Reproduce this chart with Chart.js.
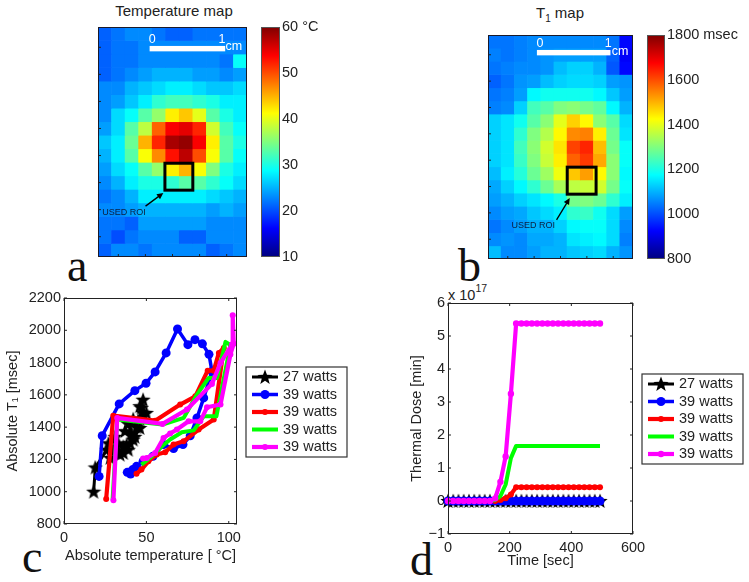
<!DOCTYPE html>
<html>
<head>
<meta charset="utf-8">
<title>Temperature and T1 maps</title>
<script src="https://cdn.jsdelivr.net/npm/chart.js@4"></script>
<style>
  html, body { margin: 0; padding: 0; background: #fff; }
  body { width: 749px; height: 582px; position: relative; overflow: hidden; font-family: "Liberation Sans", Arial, sans-serif; color: #222; }
  canvas { position: absolute; }
  .title { position: absolute; font-size: 15px; line-height: 18px; text-align: center; width: 200px; }
  .title sub { font-size: 10px; }
  .letter { position: absolute; font-family: "Liberation Serif", serif; font-size: 46px; line-height: 46px; color: #111; }
  .exponent { position: absolute; font-size: 14.5px; line-height: 16px; }
  .exponent sup { font-size: 10.5px; position: relative; top: -2px; vertical-align: super; line-height: 0; }
</style>
</head>
<body>
<div class="title" style="left:74px;top:2px">Temperature map</div>
<div class="title" style="left:460px;top:4px">T<sub>1</sub> map</div>
<div class="letter" style="left:67px;top:243px">a</div>
<div class="letter" style="left:458px;top:243px">b</div>
<div class="letter" style="left:22px;top:534px">c</div>
<div class="letter" style="left:410px;top:537px">d</div>
<div class="exponent" style="left:448px;top:287px">x 10<sup>17</sup></div>

<canvas id="tempMap" width="149" height="230" style="left:98px;top:27px"></canvas>
<canvas id="tempBar" width="90" height="257" style="left:261px;top:15px"></canvas>
<canvas id="t1Map" width="145" height="224" style="left:488px;top:35px"></canvas>
<canvas id="t1Bar" width="100" height="250" style="left:647px;top:23px"></canvas>
<canvas id="loopChart" width="360" height="297" style="left:0;top:285px"></canvas>
<canvas id="doseChart" width="349" height="297" style="left:400px;top:285px"></canvas>

<script>
// panel a, temperature in deg C per cell
const tempRows = [
  [21,22,23,23,22,21,21,22,22,22,22],
  [21,22,22,23,23,23,23,23,23,23,23],
  [21,22,22,23,23,23,23,23,23,22,29],
  [21,22,23,24,25,25,25,24,24,23,24],
  [23,23,25,26,27,28,28,27,26,26,27],
  [23,24,26,28,31,32,32,31,30,28,28],
  [23,27,29,33,36,42,44,40,33,30,28],
  [24,27,33,38,49,54,55,52,39,32,29],
  [26,28,34,45,52,58,59,54,42,33,30],
  [25,28,33,41,47,53,57,50,41,33,29],
  [24,27,29,33,36,42,45,41,35,30,28],
  [23,25,28,30,30,31,33,33,31,29,27],
  [22,23,25,28,28,28,28,28,27,26,25],
  [23,23,24,25,25,25,25,25,24,25,24],
  [22,22,21,24,24,24,24,24,23,23,23],
  [22,20,22,23,23,23,21,21,23,23,23],
  [21,23,23,22,23,23,23,23,21,22,23]
];

// panel b, T1 in msec per cell
const t1Rows = [
  [1040,1040,1050,1060,1060,1060,1060,1060,1060,1040,930],
  [1050,1040,1050,1060,1070,1080,1080,1080,1080,1020,920],
  [1040,1050,1060,1060,1070,1110,1130,1130,1100,1010,930],
  [1020,1040,1070,1080,1110,1130,1140,1140,1130,1080,1070],
  [1040,1050,1080,1170,1190,1190,1190,1190,1170,1120,1080],
  [1050,1060,1130,1240,1260,1300,1310,1290,1270,1170,1100],
  [1130,1150,1190,1260,1310,1400,1470,1430,1310,1260,1140],
  [1130,1150,1220,1300,1350,1430,1540,1550,1440,1280,1150],
  [1130,1150,1240,1310,1380,1450,1610,1640,1490,1290,1180],
  [1130,1150,1230,1300,1370,1440,1580,1620,1510,1310,1180],
  [1110,1160,1210,1280,1330,1410,1480,1520,1430,1310,1170],
  [1090,1130,1170,1220,1280,1340,1360,1370,1380,1290,1180],
  [1080,1100,1130,1150,1170,1200,1290,1300,1280,1220,1160],
  [1060,1080,1090,1120,1140,1160,1220,1230,1190,1140,1080],
  [1040,1060,1080,1100,1100,1130,1170,1180,1180,1140,1060],
  [1060,1070,1060,1090,1090,1100,1150,1160,1170,1140,1050],
  [1110,1060,1060,1080,1100,1100,1120,1130,1140,1100,1070]
];

const tempBarTicks = [10, 20, 30, 40, 50, 60];
const t1BarTicks = [800, 1000, 1200, 1400, 1600, 1800];

// panel c
const seriesNames = ['27 watts', '39 watts', '39 watts', '39 watts', '39 watts'];
const loopXTicks = [0, 50, 100];
const loopYTicks = [800, 1000, 1200, 1400, 1600, 1800, 2000, 2200];

const blackTemp = [18,19,26,28,30,27,34,31,32,33,36,36,38,39,40,42,37,41,39,46,43,44,42,45,46,48,50,47,48,46];
const blackT1 = [1000,1150,1260,1210,1260,1300,1230,1340,1250,1300,1280,1240,1290,1260,1300,1323,1375,1360,1420,1395,1340,1400,1450,1440,1450,1488,1488,1520,1570,1530];

const blueTemp = [21.3,23.2,33.5,43,49.8,55.3,62,68.9,75.2,79.5,84,88,89.8,84.8,80.7,76.6,72.2,66.5,60.4,54,48,44,41.7,39.6,38.4,40.4];
const blueT1 = [1095,1347,1544,1626,1672,1742,1860,2008,1911,1942,1916,1851,1746,1581,1457,1346,1292,1267,1292,1220,1188,1157,1137,1120,1120,1110];

const redTemp = [25.6,29.9,55.3,70.5,79.7,87.2,90.9,94,97,90.9,81.7,72.6,66.5,61.4,56.3,51.2,47,44];
const redT1 = [955,1471,1440,1540,1591,1750,1750,1860,1891,1447,1385,1312,1292,1244,1230,1188,1137,1112];

const greenTemp = [29.5,32.3,59.8,72.6,80.7,87.8,92.9,98,101,92.5,84.8,78.7,71.5,64.4,58.3,52.2,47];
const greenT1 = [950,1447,1416,1457,1602,1705,1705,1928,1909,1467,1467,1380,1368,1323,1271,1209,1168];

const magentaTemp = [30,32.3,59.8,74.6,89.8,95,102,102.4,103,101,95,86.8,82.7,75.6,68.5,64.4,60.4,55.3,50.2,48];
const magentaT1 = [947,1457,1420,1509,1668,1798,1912,2093,1916,1850,1540,1523,1436,1436,1385,1360,1333,1240,1209,1205];

// panel d, dose in units of 1e17 min
const doseXTicks = [0, 200, 400, 600];
const doseYTicks = [-1, 0, 1, 2, 3, 4, 5, 6];
const doseTime = [0,17,34,51,68,85,102,119,136,153,170,187,204,221,238,255,272,289,306,323,340,357,374,391,408,425,442,459,476,493];
const doseBlack = [0,0,0,0,0,0,0,0,0,0,0,0,0,0,0,0,0,0,0,0,0,0,0,0,0,0,0,0,0,0];
const doseBlue = [0,0,0,0,0,0,0,0,0,0,0,0,0,0,0,0,0,0,0,0,0,0,0,0,0,0,0,0,0,0];
const doseRed = [0,0,0,0,0,0,0,0,0,0,.03,.08,.2,.42,.42,.42,.42,.42,.42,.42,.42,.42,.42,.42,.42,.42,.42,.42,.42,.42];
const doseGreen = [0,0,0,0,0,0,0,0,0,.03,.15,.5,1.3,1.67,1.67,1.67,1.67,1.67,1.67,1.67,1.67,1.67,1.67,1.67,1.67,1.67,1.67,1.67,1.67,1.67];
const doseMagenta = [0,0,0,0,0,0,0,0,0,.08,.58,1.35,3.25,5.38,5.38,5.38,5.38,5.38,5.38,5.38,5.38,5.38,5.38,5.38,5.38,5.38,5.38,5.38,5.38,5.38];

const FONT = '"Liberation Sans", Arial, sans-serif';
const jetStops = ['#00007f','#0000ff','#007fff','#00ffff','#7fff7f','#ffff00','#ff7f00','#ff0000','#7f0000'];

Chart.defaults.font.family = FONT;
Chart.defaults.color = '#222';
Chart.defaults.animation = false;
Chart.defaults.responsive = false;
Chart.defaults.plugins.legend.display = false;
Chart.defaults.plugins.tooltip.enabled = false;

// matlab jet colormap
function jet(t) {
  const f = c => Math.round(255 * Math.max(0, Math.min(1, c)));
  const r = 1.5 - Math.abs(4 * t - 3);
  const g = 1.5 - Math.abs(4 * t - 2);
  const b = 1.5 - Math.abs(4 * t - 1);
  return `rgb(${f(r)},${f(g)},${f(b)})`;
}

// five point filled star, used as a point style
function makeStar(size) {
  const c = document.createElement('canvas');
  c.width = c.height = size;
  const g = c.getContext('2d');
  const R = size / 2, r = R * 0.42;
  g.fillStyle = '#000';
  g.beginPath();
  for (let i = 0; i < 10; i++) {
    const a = -Math.PI / 2 + i * Math.PI / 5;
    const d = i % 2 ? r : R;
    g.lineTo(R + d * Math.cos(a), R + 0.5 + d * Math.sin(a));
  }
  g.closePath();
  g.fill();
  return c;
}
const starPoint = makeStar(16);

// heatmap as stacked bars, one dataset per row
function heatmap(id, rows, lo, hi, overlay) {
  new Chart(document.getElementById(id), {
    type: 'bar',
    data: {
      labels: rows[0].map((_, i) => i),
      datasets: rows.map(row => ({
        data: row.map(() => 1),
        backgroundColor: row.map(v => jet((v - lo) / (hi - lo))),
        borderWidth: 0,
        barPercentage: 1,
        categoryPercentage: 1
      }))
    },
    options: {
      layout: { padding: 0 },
      scales: {
        x: { display: false, stacked: true },
        y: { display: false, stacked: true, reverse: true, min: 0, max: rows.length }
      }
    },
    plugins: [mapOverlay(overlay, rows.length, rows[0].length)]
  });
}

// scale bar, roi box and label on top of a map, given in cell units
function mapOverlay(o, nRows, nCols) {
  return {
    id: 'mapOverlay',
    afterDraw(chart) {
      const { ctx } = chart;
      const px = c => chart.scales.x.getPixelForValue(c - 0.5);
      const py = r => chart.scales.y.getPixelForValue(r);
      ctx.save();
      // ticks on left and bottom
      ctx.strokeStyle = '#222';
      ctx.lineWidth = 1;
      ctx.beginPath();
      for (let r = 1.5; r < nRows; r += 2) {
        ctx.moveTo(0, py(r)); ctx.lineTo(3, py(r));
      }
      for (let c = 1.5; c < nCols; c += 2) {
        ctx.moveTo(px(c), chart.height); ctx.lineTo(px(c), chart.height - 3);
      }
      ctx.stroke();
      ctx.strokeStyle = '#1a1a2a';
      ctx.strokeRect(0.5, 0.5, chart.width - 1, chart.height - 1);

      // scale bar
      ctx.fillStyle = '#fff';
      ctx.fillRect(px(o.bar[0]), py(o.bar[2]) - 2.7, px(o.bar[1]) - px(o.bar[0]), 5.4);
      ctx.font = '12.5px ' + FONT;
      ctx.textBaseline = 'middle';
      ctx.textAlign = 'center';
      ctx.fillText('0', px(o.zero[0]), py(o.zero[1]));
      ctx.fillText('1', px(o.one[0]), py(o.one[1]));
      ctx.textAlign = 'left';
      ctx.fillText('cm', px(o.cm[0]), py(o.cm[1]));

      // roi box
      ctx.strokeStyle = '#000';
      ctx.lineWidth = 3;
      ctx.strokeRect(px(o.roi[0]), py(o.roi[2]), px(o.roi[1]) - px(o.roi[0]), py(o.roi[3]) - py(o.roi[2]));

      // arrow
      const x0 = px(o.arrow[0]), y0 = py(o.arrow[1]), x1 = px(o.arrow[2]), y1 = py(o.arrow[3]);
      const ang = Math.atan2(y1 - y0, x1 - x0);
      ctx.lineWidth = 1.3;
      ctx.fillStyle = '#000';
      ctx.beginPath();
      ctx.moveTo(x0, y0);
      ctx.lineTo(x1 - 4 * Math.cos(ang), y1 - 4 * Math.sin(ang));
      ctx.stroke();
      ctx.beginPath();
      ctx.moveTo(x1, y1);
      ctx.lineTo(x1 - 7 * Math.cos(ang - 0.45), y1 - 7 * Math.sin(ang - 0.45));
      ctx.lineTo(x1 - 7 * Math.cos(ang + 0.45), y1 - 7 * Math.sin(ang + 0.45));
      ctx.closePath();
      ctx.fill();

      // label
      ctx.fillStyle = '#0b1f3f';
      ctx.font = '9px ' + FONT;
      ctx.fillText('USED ROI', px(o.label[0]), py(o.label[1]));
      ctx.restore();
    }
  };
}

function colorbar(id, ticks, unit, pad) {
  const lo = ticks[0], hi = ticks[ticks.length - 1];
  new Chart(document.getElementById(id), {
    type: 'bar',
    data: {
      labels: [''],
      datasets: [{
        data: [[lo, hi]],
        barPercentage: 1,
        categoryPercentage: 1,
        borderWidth: 0,
        backgroundColor(c) {
          const a = c.chart.chartArea;
          if (!a) return '#000';
          const g = c.chart.ctx.createLinearGradient(0, a.bottom, 0, a.top);
          jetStops.forEach((s, i) => g.addColorStop(i / (jetStops.length - 1), s));
          return g;
        }
      }]
    },
    options: {
      layout: { padding: { top: pad.top, bottom: pad.bottom } },
      scales: {
        x: { display: false },
        y: {
          position: 'right',
          min: lo,
          max: hi,
          border: { display: false },
          grid: { display: false, drawTicks: false },
          afterBuildTicks(s) { s.ticks = ticks.map(v => ({ value: v })); },
          afterFit(s) { s.width = pad.axis; },
          ticks: {
            padding: 2,
            font: { size: 14.5 },
            color: '#222',
            callback: v => (v === hi ? v + ' ' + unit : '' + v)
          }
        }
      }
    },
    plugins: [{
      id: 'barEdge',
      afterDraw(chart) {
        const a = chart.chartArea, g = chart.ctx;
        g.save();
        g.strokeStyle = '#555';
        g.lineWidth = 1;
        g.strokeRect(a.left + 0.5, a.top + 0.5, a.width - 1, a.height - 1);
        g.restore();
      }
    }]
  });
}

// box, inward ticks on all four sides and the boxed legend
function plotFrame(legendPos) {
  return {
    id: 'plotFrame',
    afterDraw(chart) {
      const { ctx, chartArea: a, scales } = chart;
      ctx.save();
      ctx.strokeStyle = '#222';
      ctx.lineWidth = 1;
      ctx.strokeRect(a.left + 0.5, a.top + 0.5, a.width - 1, a.height - 1);
      ctx.beginPath();
      scales.x.ticks.forEach(t => {
        const x = scales.x.getPixelForValue(t.value);
        ctx.moveTo(x, a.bottom); ctx.lineTo(x, a.bottom - 3);
        ctx.moveTo(x, a.top); ctx.lineTo(x, a.top + 3);
      });
      scales.y.ticks.forEach(t => {
        const y = scales.y.getPixelForValue(t.value);
        ctx.moveTo(a.left, y); ctx.lineTo(a.left + 3, y);
        ctx.moveTo(a.right, y); ctx.lineTo(a.right - 3, y);
      });
      ctx.stroke();

      const rowH = 17.5;
      ctx.strokeStyle = '#333';
      ctx.fillStyle = '#fff';
      ctx.lineWidth = 1.2;
      ctx.fillRect(legendPos.x, legendPos.y, 101, 90);
      ctx.strokeRect(legendPos.x, legendPos.y, 101, 90);
      ctx.font = '14.5px ' + FONT;
      ctx.textBaseline = 'middle';
      chart.data.datasets.forEach((d, i) => {
        const y = legendPos.y + 10 + i * rowH;
        ctx.strokeStyle = d.borderColor;
        ctx.lineWidth = d.borderWidth;
        ctx.beginPath();
        ctx.moveTo(legendPos.x + 6, y);
        ctx.lineTo(legendPos.x + 32, y);
        ctx.stroke();
        if (d.pointRadius > 0) {
          ctx.fillStyle = d.pointBackgroundColor;
          Chart.helpers.drawPoint(ctx, { pointStyle: d.pointStyle, rotation: 0, radius: d.pointRadius, borderWidth: 0 }, legendPos.x + 19, y);
        }
        ctx.fillStyle = '#222';
        ctx.fillText(d.label, legendPos.x + 37, y);
      });
      ctx.restore();
    }
  };
}

const zip = (xs, ys) => xs.map((x, i) => ({ x, y: ys[i] }));

// later series are plotted over earlier ones, as in matlab
function series(n, xs, ys, color, width, radius, style) {
  return {
    label: seriesNames[n],
    order: seriesNames.length - n,
    data: zip(xs, ys),
    showLine: true,
    tension: 0,
    clip: false,
    borderColor: color,
    borderWidth: width,
    borderJoinStyle: 'round',
    pointStyle: style || 'circle',
    pointRadius: radius,
    pointBorderWidth: 0,
    pointBackgroundColor: color
  };
}

function linePlot(id, datasets, opt) {
  new Chart(document.getElementById(id), {
    type: 'scatter',
    data: { datasets },
    options: {
      layout: { padding: { top: opt.top, right: opt.right } },
      scales: {
        x: {
          min: opt.xTicks[0],
          max: opt.xMax,
          border: { display: false },
          grid: { display: false, drawTicks: false },
          afterBuildTicks(s) { s.ticks = opt.xTicks.map(v => ({ value: v })); },
          afterFit(s) { s.height = opt.bottom; },
          ticks: { padding: 5, autoSkip: false, maxRotation: 0, font: { size: 14.5 }, color: '#222', callback: v => '' + v },
          title: { display: true, text: opt.xTitle, font: { size: 14.5 }, color: '#222', padding: { top: 0, bottom: opt.xTitlePad } }
        },
        y: {
          min: opt.yTicks[0],
          max: opt.yTicks[opt.yTicks.length - 1],
          border: { display: false },
          grid: { display: false, drawTicks: false },
          afterBuildTicks(s) { s.ticks = opt.yTicks.map(v => ({ value: v })); },
          afterFit(s) { s.width = opt.left; },
          ticks: { padding: 3, font: { size: 14.5 }, color: '#222', callback: v => ('' + v).replace('-', '\u2212') },
          title: { display: true, text: opt.yTitle, font: { size: 14.5 }, color: '#222', padding: { top: opt.yTitlePad, bottom: 0 } }
        }
      }
    },
    plugins: [plotFrame(opt.legend)]
  });
}

heatmap('tempMap', tempRows, 10, 60, {
  bar: [3.81, 9.39, 1.6], zero: [4.0, 0.91], one: [9.16, 0.91], cm: [9.41, 1.47],
  roi: [4.94, 7.0, 10.07, 12.06], arrow: [3.51, 13.24, 4.82, 12.27], label: [0.32, 13.73]
});
heatmap('t1Map', t1Rows, 800, 1800, {
  bar: [3.71, 9.29, 1.34], zero: [3.94, 0.66], one: [9.12, 0.66], cm: [9.39, 1.29],
  roi: [6.01, 8.2, 10.03, 12.08], arrow: [5.2, 14.03, 6.2, 12.38], label: [1.79, 14.46]
});
colorbar('tempBar', tempBarTicks, '°C', { top: 12, bottom: 15, axis: 71 });
colorbar('t1Bar', t1BarTicks, 'msec', { top: 12, bottom: 14, axis: 82 });

linePlot('loopChart', [
  series(0, blackTemp, blackT1, '#000', 3, 8, starPoint),
  series(1, blueTemp, blueT1, '#0000ff', 3.5, 4.5),
  series(2, redTemp, redT1, '#ff0000', 4.2, 3),
  series(3, greenTemp, greenT1, '#00ff00', 4, 0),
  series(4, magentaTemp, magentaT1, '#ff00ff', 4.2, 3)
], {
  left: 64, right: 123, top: 13, bottom: 58,
  xTicks: loopXTicks, xMax: 105, yTicks: loopYTicks,
  xTitle: 'Absolute temperature [ °C]', yTitle: 'Absolute T₁ [msec]',
  xTitlePad: 17, yTitlePad: 4,
  legend: { x: 246, y: 82 }
});

linePlot('doseChart', [
  series(0, doseTime, doseBlack, '#000', 3, 8, starPoint),
  series(1, doseTime, doseBlue, '#0000ff', 3.5, 4.5),
  series(2, doseTime, doseRed, '#ff0000', 4.2, 3),
  series(3, doseTime, doseGreen, '#00ff00', 4, 0),
  series(4, doseTime, doseMagenta, '#ff00ff', 4.2, 3.2)
], {
  left: 48, right: 116, top: 18, bottom: 48,
  xTicks: doseXTicks, xMax: 600, yTicks: doseYTicks,
  xTitle: 'Time [sec]', yTitle: 'Thermal Dose [min]',
  xTitlePad: 12, yTitlePad: 8,
  legend: { x: 242, y: 89 }
});
</script>
</body>
</html>
